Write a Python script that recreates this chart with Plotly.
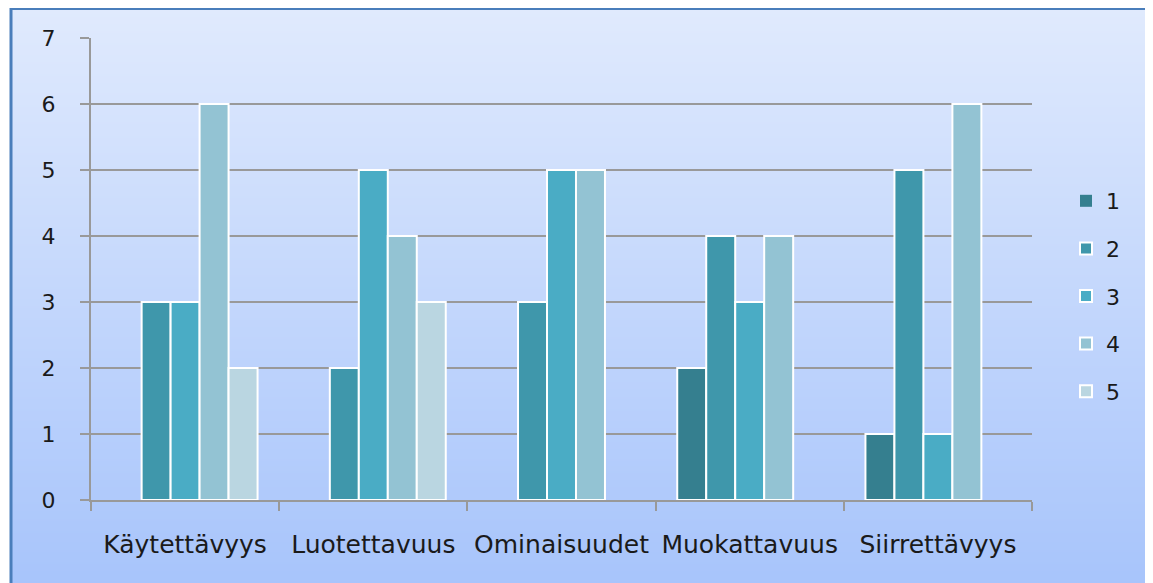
import zlib, struct, base64
import plotly.graph_objects as go

categories = ["Käytettävyys", "Luotettavuus", "Ominaisuudet", "Muokattavuus", "Siirrettävyys"]
series_names = ["1", "2", "3", "4", "5"]
s1 = [0, 0, 0, 2, 1]
s2 = [3, 2, 3, 4, 5]
s3 = [3, 5, 5, 3, 1]
s4 = [6, 4, 5, 4, 6]
s5 = [2, 3, 0, 0, 0]
series_values = [s1, s2, s3, s4, s5]
y_ticks = [0, 1, 2, 3, 4, 5, 6, 7]

colors = ["#357f8f", "#3f97ab", "#4aacc5", "#93c3d3", "#bad6e1"]

# page geometry (px, in screenshot coordinates); the page body adds an 8px offset
OFF = 8
W, H = 1153 - 2 * OFF, 583 - OFF
L, R, T, B = 91 - OFF, 1032 - OFF, 38 - OFF, 500 - OFF
pw, ph = R - L, B - T


def px_x(p):
    return (p - OFF - L) / pw


def px_y(p):
    return (B - (p - OFF)) / ph


def gradient_png(top, bottom, h=256, w=4):
    raw = b""
    for i in range(h):
        t = i / (h - 1)
        c = bytes(round(top[k] + (bottom[k] - top[k]) * t) for k in range(3))
        raw += b"\x00" + c * w

    def chunk(tag, data):
        return struct.pack(">I", len(data)) + tag + data + struct.pack(">I", zlib.crc32(tag + data) & 0xFFFFFFFF)

    png = b"\x89PNG\r\n\x1a\n"
    png += chunk(b"IHDR", struct.pack(">IIBBBBB", w, h, 8, 2, 0, 0, 0))
    png += chunk(b"IDAT", zlib.compress(raw, 9))
    png += chunk(b"IEND", b"")
    return "data:image/png;base64," + base64.b64encode(png).decode()


bg = gradient_png((224, 234, 253), (164, 194, 251))

fig = go.Figure()
for i, (name, vals) in enumerate(zip(series_names, series_values)):
    fig.add_trace(go.Bar(
        x=categories, y=vals, name=name,
        marker=dict(color=colors[i],
                    line=dict(color="white", width=[2 if v else 0 for v in vals])),
        legendgroup=name,
    ))

text_font = dict(family="DejaVu Sans", size=22, color="#1a1a1a")
grid = "#999999"

fig.update_layout(
    width=W, height=H,
    margin=dict(l=L, r=W - R, t=T, b=H - B),
    paper_bgcolor="white",
    plot_bgcolor="rgba(0,0,0,0)",
    barmode="group", bargap=0.23, bargroupgap=0,
    font=text_font,
    showlegend=True,
    legend=dict(
        x=px_x(1066), y=px_y(296), xanchor="left", yanchor="middle",
        bgcolor="rgba(0,0,0,0)", borderwidth=0,
        traceorder="grouped", tracegroupgap=16,
        font=dict(family="DejaVu Sans", size=22, color="#1a1a1a"),
    ),
    images=[dict(
        source=bg, xref="paper", yref="paper",
        x=px_x(10), y=px_y(8), sizex=(1200 - 10) / pw, sizey=(620 - 8) / ph,
        xanchor="left", yanchor="top", sizing="stretch", layer="below",
    )],
    shapes=[
        dict(type="line", xref="paper", yref="paper", x0=px_x(10), x1=px_x(1200),
             y0=px_y(8.5), y1=px_y(8.5), line=dict(color="#4a7ebb", width=3)),
        dict(type="line", xref="paper", yref="paper", x0=px_x(11), x1=px_x(11),
             y0=px_y(7), y1=px_y(620), line=dict(color="#4a7ebb", width=3)),
    ],
)

fig.update_xaxes(
    type="category", showgrid=False,
    showline=True, linecolor=grid, linewidth=2,
    ticks="outside", tickson="boundaries", ticklen=9, tickcolor=grid, tickwidth=2,
    tickfont=dict(family="DejaVu Sans", size=25, color="#1a1a1a"),
    ticklabelstandoff=21,
)
fig.update_yaxes(
    range=[0, 7], tickvals=y_ticks, showgrid=True, gridcolor=grid, gridwidth=1.5,
    zeroline=False,
    showline=True, linecolor=grid, linewidth=2,
    ticks="outside", ticklen=9, tickcolor=grid, tickwidth=1.5,
    tickfont=text_font, ticklabelstandoff=20,
)

fig.write_html("out.html")
